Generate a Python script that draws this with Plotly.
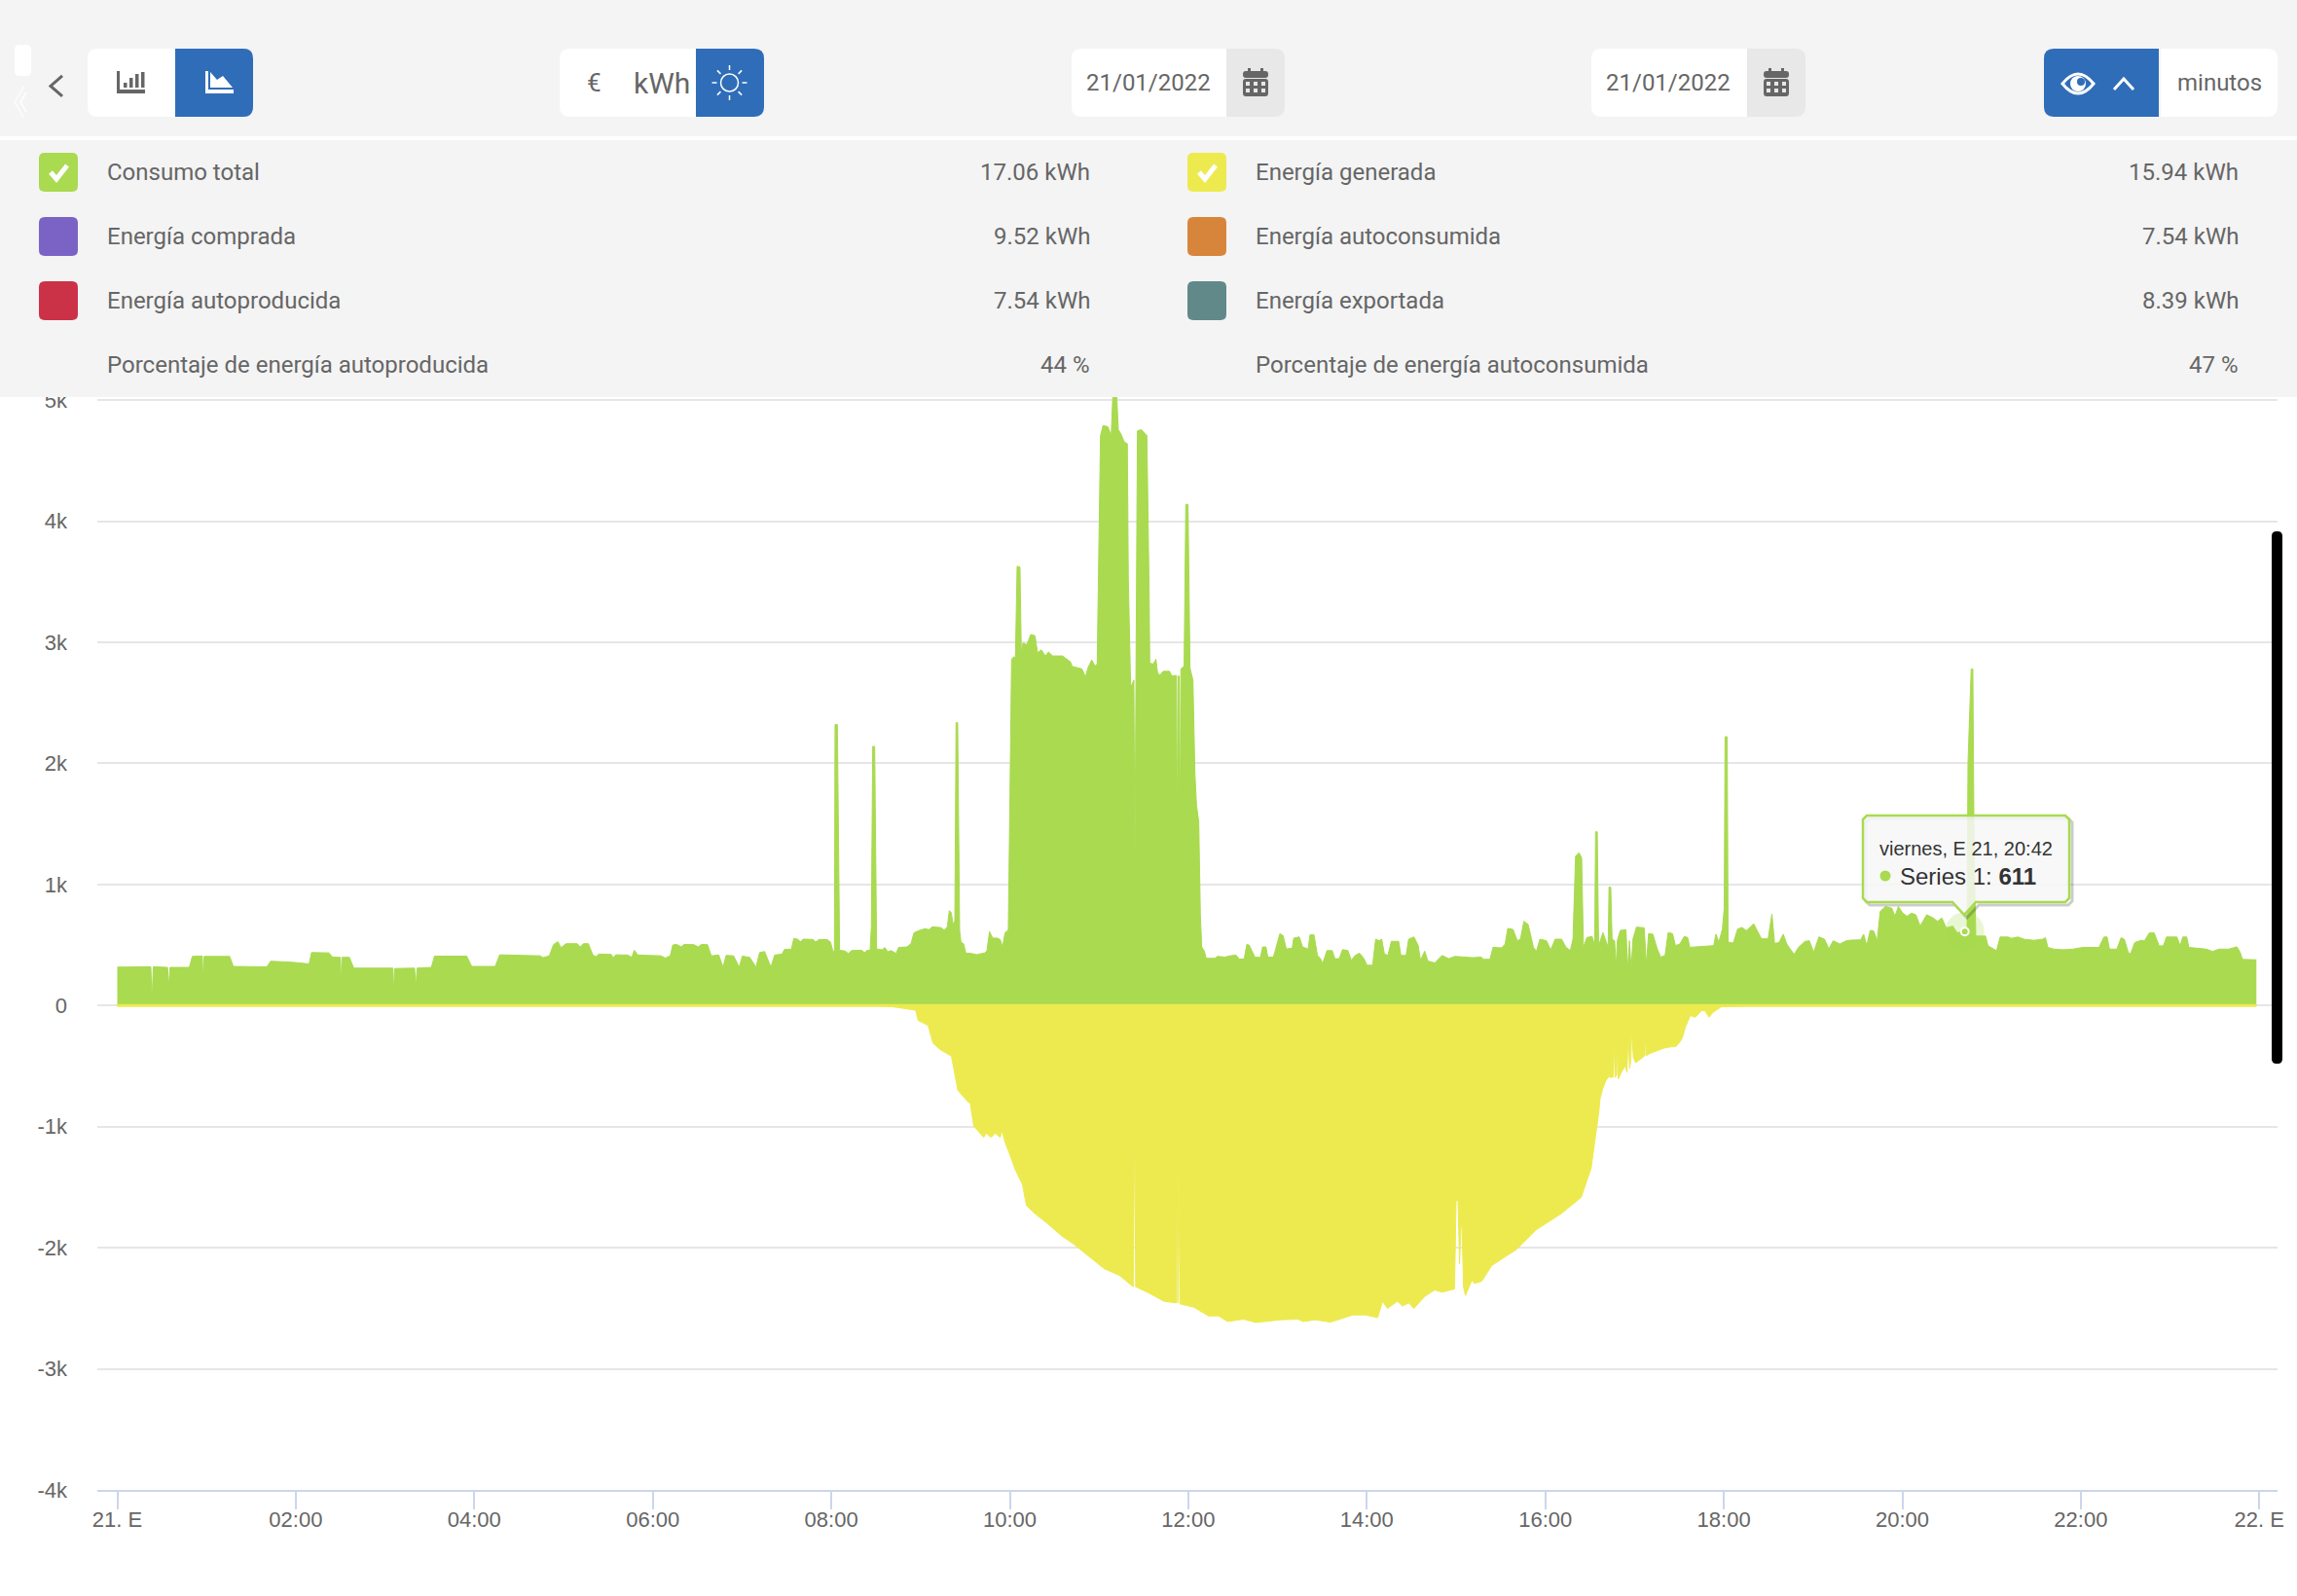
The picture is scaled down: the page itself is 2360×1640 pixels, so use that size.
import pandas as pd
import plotly.graph_objects as go

# hours since midnight, watts
consumo_h = [
    0.00, 0.376, 0.389, 0.403, 0.563, 0.577, 0.591, 0.807, 0.841, 0.953, 0.960, 0.974, 1.259, 1.300, 1.676, 1.718,
    1.954, 2.149, 2.177, 2.371, 2.413, 2.497, 2.503, 2.517, 2.601, 2.649, 3.088, 3.095, 3.108, 3.331, 3.345, 3.359,
    3.519, 3.554, 3.915, 3.971, 4.235, 4.284, 4.736, 4.771, 4.840, 4.889, 4.937, 4.972, 5.028, 5.153, 5.188, 5.222,
    5.278, 5.327, 5.361, 5.396, 5.535, 5.556, 5.584, 5.723, 5.765, 5.793, 5.834, 6.092, 6.140, 6.196, 6.224, 6.266,
    6.321, 6.349, 6.460, 6.509, 6.544, 6.613, 6.655, 6.697, 6.739, 6.787, 6.822, 6.905, 6.968, 7.003, 7.086, 7.156,
    7.197, 7.253, 7.323, 7.365, 7.448, 7.476, 7.552, 7.580, 7.621, 7.656, 7.684, 7.795, 7.823, 7.865, 7.955, 7.991,
    8.020, 8.035, 8.042, 8.068, 8.093, 8.155, 8.191, 8.228, 8.337, 8.373, 8.398, 8.435, 8.449, 8.464, 8.486, 8.508,
    8.573, 8.598, 8.635, 8.671, 8.726, 8.755, 8.846, 8.893, 8.926, 8.973, 9.046, 9.100, 9.129, 9.227, 9.264, 9.300,
    9.322, 9.344, 9.365, 9.384, 9.398, 9.416, 9.438, 9.453, 9.482, 9.507, 9.573, 9.627, 9.718, 9.743, 9.773, 9.809,
    9.863, 9.893, 9.918, 9.947, 9.983, 10.002, 10.020, 10.045, 10.063, 10.082, 10.114, 10.129, 10.147, 10.191, 10.234,
    10.282, 10.311, 10.354, 10.398, 10.434, 10.481, 10.590, 10.681, 10.699, 10.808, 10.848, 10.874, 10.918, 10.954,
    10.979, 10.994, 11.016, 11.045, 11.099, 11.136, 11.154, 11.198, 11.216, 11.245, 11.281, 11.317, 11.328, 11.354,
    11.390, 11.401, 11.412, 11.416, 11.430, 11.474, 11.536, 11.561, 11.568, 11.608, 11.637, 11.655, 11.681, 11.717,
    11.790, 11.815, 11.866, 11.874, 11.884, 11.899, 11.906, 11.917, 11.953, 11.972, 11.997, 12.019, 12.052, 12.074,
    12.092, 12.117, 12.135, 12.150, 12.179, 12.201, 12.299, 12.328, 12.408, 12.463, 12.535, 12.572, 12.626, 12.655,
    12.681, 12.746, 12.808, 12.833, 12.870, 12.891, 12.953, 12.979, 13.026, 13.062, 13.098, 13.164, 13.182, 13.244,
    13.280, 13.342, 13.364, 13.408, 13.447, 13.481, 13.505, 13.554, 13.612, 13.642, 13.690, 13.729, 13.788, 13.827,
    13.870, 13.919, 13.968, 14.002, 14.065, 14.099, 14.138, 14.167, 14.197, 14.236, 14.275, 14.357, 14.382, 14.440,
    14.469, 14.528, 14.576, 14.601, 14.649, 14.684, 14.761, 14.844, 14.917, 14.990, 15.088, 15.185, 15.282, 15.307,
    15.380, 15.414, 15.511, 15.550, 15.579, 15.638, 15.686, 15.721, 15.760, 15.808, 15.867, 15.901, 15.940, 16.013,
    16.061, 16.110, 16.183, 16.232, 16.280, 16.310, 16.339, 16.378, 16.407, 16.427, 16.466, 16.524, 16.553, 16.563,
    16.582, 16.597, 16.646, 16.680, 16.704, 16.714, 16.733, 16.748, 16.777, 16.792, 16.806, 16.841, 16.904, 16.923,
    16.943, 16.962, 16.982, 17.021, 17.108, 17.132, 17.157, 17.205, 17.254, 17.293, 17.342, 17.376, 17.425, 17.459,
    17.507, 17.556, 17.595, 17.619, 17.741, 17.887, 17.911, 17.945, 17.984, 18.004, 18.014, 18.038, 18.048, 18.106,
    18.155, 18.204, 18.252, 18.291, 18.335, 18.374, 18.423, 18.496, 18.539, 18.569, 18.618, 18.666, 18.705, 18.788,
    18.837, 18.910, 18.958, 19.007, 19.066, 19.128, 19.177, 19.226, 19.299, 19.372, 19.421, 19.533, 19.567, 19.601,
    19.640, 19.679, 19.718, 19.752, 19.810, 19.883, 19.917, 19.956, 20.005, 20.053, 20.102, 20.151, 20.200, 20.273,
    20.346, 20.395, 20.443, 20.492, 20.565, 20.614, 20.700, 20.725, 20.736, 20.772, 20.790, 20.805, 20.823, 20.932,
    20.961, 21.005, 21.056, 21.096, 21.186, 21.223, 21.295, 21.368, 21.477, 21.568, 21.604, 21.630, 21.695, 21.804,
    21.913, 22.022, 22.204, 22.259, 22.295, 22.321, 22.404, 22.451, 22.488, 22.531, 22.557, 22.604, 22.677, 22.713,
    22.768, 22.822, 22.877, 22.924, 22.960, 23.077, 23.113, 23.142, 23.186, 23.211, 23.331, 23.404, 23.477, 23.549,
    23.658, 23.749, 23.785, 23.811, 23.967,
]
consumo_w = [
    317, 320, 22, 320, 315, 156, 315, 315, 406, 409, 210, 406, 406, 323, 320, 366,
    358, 344, 438, 435, 400, 398, 156, 398, 398, 309, 309, 102, 306, 309, 142, 309,
    315, 408, 408, 323, 323, 419, 411, 395, 411, 505, 527, 478, 511, 511, 484, 511,
    511, 419, 403, 425, 422, 392, 419, 417, 398, 457, 417, 411, 392, 411, 500, 505,
    484, 505, 503, 484, 505, 503, 411, 414, 417, 317, 414, 411, 317, 408, 398, 317,
    438, 446, 317, 417, 425, 465, 465, 554, 548, 527, 548, 546, 524, 546, 544, 524,
    444, 450, 2320, 2320, 457, 450, 430, 454, 457, 437, 454, 457, 650, 2140, 2140, 467,
    460, 480, 444, 454, 430, 480, 484, 510, 600, 617, 634, 627, 650, 644, 624, 650,
    784, 767, 667, 700, 2336, 2336, 617, 524, 510, 434, 430, 420, 434, 450, 610, 557,
    557, 544, 484, 600, 624, 1750, 2860, 2880, 2870, 3628, 3621, 2904, 2994, 2980, 3064,
    3054, 2914, 2937, 2887, 2920, 2887, 2887, 2837, 2800, 2780, 2713, 2787, 2854, 2804,
    2820, 3800, 4706, 4790, 4780, 4706, 5030, 5030, 4756, 4720, 4656, 4640, 3520, 2627,
    2687, 1150, 2687, 3420, 4746, 4756, 4706, 3420, 2827, 2820, 2860, 2750, 2727, 2760,
    2760, 2720, 2727, 1250, 2720, 2720, 1250, 2780, 2804, 4139, 4139, 2787, 2687, 1919,
    1652, 1519, 751, 484, 450, 390, 390, 407, 400, 410, 417, 384, 384, 504,
    500, 400, 397, 484, 484, 400, 400, 467, 594, 577, 467, 474, 557, 567,
    484, 467, 584, 584, 414, 387, 347, 454, 454, 387, 387, 462, 454, 374,
    414, 433, 387, 333, 333, 548, 535, 548, 427, 414, 530, 530, 414, 414,
    548, 567, 495, 374, 449, 368, 352, 414, 387, 406, 400, 395, 400, 382,
    382, 481, 476, 508, 637, 629, 535, 548, 696, 669, 481, 449, 548, 535,
    460, 548, 548, 481, 454, 548, 1234, 1261, 1220, 481, 562, 570, 500, 1435,
    1435, 495, 602, 535, 481, 978, 978, 548, 535, 300, 535, 621, 626, 293,
    535, 293, 548, 648, 642, 333, 594, 589, 468, 400, 414, 602, 594, 495,
    508, 570, 562, 481, 489, 495, 589, 524, 632, 800, 2220, 2220, 524, 516,
    632, 645, 618, 645, 675, 618, 551, 551, 755, 513, 521, 589, 508, 422,
    481, 530, 535, 441, 567, 548, 468, 535, 508, 535, 540, 543, 589, 495,
    621, 616, 535, 777, 817, 804, 737, 817, 763, 737, 763, 750, 656, 750,
    723, 696, 723, 642, 656, 602, 611, 587, 2008, 2780, 2780, 1204, 574, 574,
    493, 475, 453, 566, 566, 555, 566, 547, 539, 547, 560, 480, 466, 461,
    466, 480, 480, 566, 566, 466, 466, 560, 547, 440, 426, 520, 539, 534,
    600, 600, 493, 493, 566, 566, 493, 566, 566, 480, 472, 466, 447, 466,
    466, 485, 440, 381, 378,
]
generada_h = [
    0.00, 8.500, 8.667, 8.945, 8.973, 9.084, 9.140, 9.223, 9.346, 9.418, 9.529, 9.557, 9.596, 9.708, 9.735, 9.791,
    9.836, 9.891, 9.913, 9.947, 10.003, 10.058, 10.114, 10.142, 10.186, 10.281, 10.420, 10.531, 10.587, 10.698,
    10.809, 10.949, 11.060, 11.227, 11.383, 11.399, 11.410, 11.561, 11.728, 11.867, 11.872, 11.883, 11.889, 11.906,
    12.061, 12.228, 12.340, 12.440, 12.618, 12.757, 12.896, 13.035, 13.230, 13.286, 13.425, 13.592, 13.731, 13.842,
    13.981, 14.121, 14.176, 14.232, 14.343, 14.399, 14.471, 14.527, 14.649, 14.760, 14.844, 14.983, 15.000, 15.022,
    15.039, 15.055, 15.067, 15.083, 15.105, 15.178, 15.206, 15.289, 15.400, 15.679, 15.901, 16.179, 16.402, 16.469,
    16.513, 16.596, 16.614, 16.643, 16.679, 16.705, 16.708, 16.715, 16.759, 16.770, 16.781, 16.799, 16.806, 16.817,
    16.861, 16.897, 16.915, 16.926, 16.934, 16.945, 16.959, 16.966, 16.988, 17.014, 17.079, 17.115, 17.123, 17.130,
    17.188, 17.333, 17.388, 17.461, 17.497, 17.533, 17.570, 17.624, 17.679, 17.751, 17.788, 17.835, 17.879, 17.970,
    18.315, 23.967,
]
generada_w = [
    0, 0, -8, -38, -123, -164, -311, -365, -418, -700, -794, -807, -995, -1088, -1054, -1088,
    -1054, -1088, -1035, -1129, -1236, -1349, -1437, -1477, -1651, -1718, -1799, -1866, -1906, -1960,
    -2027, -2107, -2174, -2228, -2322, -910, -2322, -2375, -2442, -2456, -1182, -2456, -1182, -2464,
    -2491, -2563, -2563, -2609, -2590, -2617, -2604, -2595, -2590, -2609, -2595, -2614, -2582, -2555,
    -2555, -2577, -2442, -2501, -2442, -2482, -2456, -2501, -2402, -2349, -2367, -2340, -1611, -1611,
    -2134, -1825, -1825, -2322, -2394, -2268, -2295, -2276, -2147, -2013, -1850, -1718, -1584, -1437,
    -1343, -900, -767, -686, -619, -592, -365, -592, -592, -284, -592, -579, -284, -606,
    -539, -499, -552, -284, -338, -520, -445, -204, -432, -472, -432, -413, -190, -413,
    -391, -351, -343, -338, -311, -271, -177, -83, -96, -43, -43, -96, -56, -11,
    0, 0,
]
hover_h = [20.70]
hover_w = [611]

tick_h = [0, 2, 4, 6, 8, 10, 12, 14, 16, 18, 20, 22, 24]
tick_x_text = ['21. E', '02:00', '04:00', '06:00', '08:00', '10:00', '12:00', '14:00', '16:00', '18:00', '20:00', '22:00', '22. E']
tick_y = [5000, 4000, 3000, 2000, 1000, 0, -1000, -2000, -3000, -4000]
tick_y_text = ['5k', '4k', '3k', '2k', '1k', '0', '-1k', '-2k', '-3k', '-4k']

filas_izq = ['Consumo total', 'Energía comprada', 'Energía autoproducida', 'Porcentaje de energía autoproducida']
valores_izq = ['17.06 kWh', '9.52 kWh', '7.54 kWh', '44 %']
filas_der = ['Energía generada', 'Energía autoconsumida', 'Energía exportada', 'Porcentaje de energía autoconsumida']
valores_der = ['15.94 kWh', '7.54 kWh', '8.39 kWh', '47 %']
fecha_desde = '21/01/2022'
fecha_hasta = '21/01/2022'

VERDE = '#a9da50'
AMARILLO = '#edea50'
AZUL = '#2f6db8'
GRIS_TXT = '#666666'
swatch_izq = [VERDE, '#7b63c6', '#cc3247']
swatch_der = [AMARILLO, '#d8853c', '#62898a']

W, H = 2360, 1640
M_L, M_R, M_T, M_B = 100, 20, 408, 109
HOUR_PX = 91.7
T0_PX = 120.5


def fecha(horas):
    return [pd.Timestamp('2022-01-21') + pd.Timedelta(hours=h) for h in horas]


# pixel -> paper, only used for the app chrome around the chart
def X(px):
    return (px - M_L) / (W - M_L - M_R)


def Y(py):
    return (H - M_B - py) / (H - M_T - M_B)


shapes = []
annots = []


def path(puntos, cerrar=True):
    d = ''
    for i, (a, b) in enumerate(puntos):
        d += ('M' if i == 0 else 'L') + f'{X(a):.5f},{Y(b):.5f} '
    return d + ('Z' if cerrar else '')


def add_path(d, fill=None, line=None, ancho=0):
    shapes.append(dict(type='path', xref='paper', yref='paper', path=d,
                       fillcolor=fill if fill else 'rgba(0,0,0,0)',
                       line=dict(color=line if line else 'rgba(0,0,0,0)', width=ancho)))


def rrect(x0, y0, x1, y1, rl=0, rr=0):
    p = lambda a, b: f'{X(a):.5f},{Y(b):.5f}'
    return (f'M{p(x0 + rl, y0)} L{p(x1 - rr, y0)} Q{p(x1, y0)} {p(x1, y0 + rr)} L{p(x1, y1 - rr)} '
            f'Q{p(x1, y1)} {p(x1 - rr, y1)} L{p(x0 + rl, y1)} Q{p(x0, y1)} {p(x0, y1 - rl)} '
            f'L{p(x0, y0 + rl)} Q{p(x0, y0)} {p(x0 + rl, y0)} Z')


def caja(x0, y0, x1, y1, color, rl=0, rr=0):
    add_path(rrect(x0, y0, x1, y1, rl, rr), fill=color)


def circulo(cx, cy, r, fill=None, line=None, ancho=0):
    shapes.append(dict(type='circle', xref='paper', yref='paper',
                       x0=X(cx - r), x1=X(cx + r), y0=Y(cy + r), y1=Y(cy - r),
                       fillcolor=fill if fill else 'rgba(0,0,0,0)',
                       line=dict(color=line if line else 'rgba(0,0,0,0)', width=ancho)))


def texto(s, x, y, anchor='left', size=24, color=GRIS_TXT, family='Roboto'):
    annots.append(dict(text=s, xref='paper', yref='paper', x=X(x), y=Y(y), xanchor=anchor, yanchor='middle',
                       showarrow=False, borderpad=0, font=dict(family=family, size=size, color=color)))


def check(x0, y0):
    add_path(path([(x0 + 12, y0 + 20), (x0 + 18, y0 + 27), (x0 + 29, y0 + 13)], cerrar=False), line='white', ancho=5)


def calendario(x0):
    caja(x0, 73, x0 + 26, 80, GRIS_TXT, 3, 3)
    caja(x0 + 5, 70, x0 + 8, 75, GRIS_TXT)
    caja(x0 + 18, 70, x0 + 21, 75, GRIS_TXT)
    caja(x0, 81, x0 + 26, 99, GRIS_TXT, 3, 3)
    for fy in (84, 91):
        for cx in (3, 11, 19):
            caja(x0 + cx, fy, x0 + cx + 4, fy + 4, '#e8e8e8')


# header and summary panel
caja(0, 0, W, 140, '#f4f4f4')
caja(0, 144, W, 408, '#f4f4f4')
caja(15, 46, 32, 78, 'white', 5, 5)
for r, op in ((10, 0.8), (16, 0.6)):
    add_path(path([(31 - r * 0.4, 105 - r), (31 - r, 105), (31 - r * 0.4, 105 + r)], cerrar=False),
             line=f'rgba(255,255,255,{op})', ancho=2)

add_path(path([(64, 78), (52, 88.5), (64, 99)], cerrar=False), line=GRIS_TXT, ancho=3)

caja(90, 50, 180, 120, 'white', 10, 0)
caja(180, 50, 260, 120, AZUL, 0, 10)
caja(120, 73, 123, 96, GRIS_TXT)
caja(120, 92, 149, 96, GRIS_TXT)
for bx, by in ((127, 85), (133, 80), (139, 76), (145, 74)):
    caja(bx, by, bx + 3.5, 90, GRIS_TXT)
caja(211, 73, 214, 96, 'white')
caja(211, 92, 240, 96, 'white')
add_path(path([(216, 90), (216, 74), (223, 82), (229, 78), (239, 90)]), fill='white')

caja(575, 50, 715, 120, 'white', 10, 0)
caja(715, 50, 785, 120, AZUL, 0, 10)
texto('€', 610, 85, 'center', 26)
texto('kWh', 679.5, 85, 'center', 30)
circulo(749.5, 85, 9, line='white', ancho=1.5)
for dx, dy in ((0, -1), (0.7, -0.7), (1, 0), (0.7, 0.7), (0, 1), (-0.7, 0.7), (-1, 0), (-0.7, -0.7)):
    add_path(path([(749.5 + dx * 13, 85 + dy * 13), (749.5 + dx * 18, 85 + dy * 18)], cerrar=False), line='white', ancho=1.5)

caja(1101, 50, 1260, 120, 'white', 10, 0)
caja(1260, 50, 1320, 120, '#e8e8e8', 0, 10)
texto(fecha_desde, 1180, 85, 'center', 24)
calendario(1277)
caja(1635, 50, 1795, 120, 'white', 10, 0)
caja(1795, 50, 1855, 120, '#e8e8e8', 0, 10)
texto(fecha_hasta, 1714, 85, 'center', 24)
calendario(1812)

caja(2100, 50, 2218, 120, AZUL, 10, 0)
caja(2220, 50, 2340, 120, 'white', 0, 10)
shapes.append(dict(type='path', xref='paper', yref='paper',
                   path=(f'M{X(2119):.5f},{Y(86):.5f} Q{X(2135):.5f},{Y(66):.5f} {X(2151):.5f},{Y(86):.5f} '
                         f'Q{X(2135):.5f},{Y(106):.5f} {X(2119):.5f},{Y(86):.5f} Z'),
                   fillcolor='rgba(0,0,0,0)', line=dict(color='white', width=3)))
circulo(2135, 86, 8, fill='white')
circulo(2138, 84, 4, fill=AZUL)
add_path(path([(2172, 92), (2182, 81), (2192, 92)], cerrar=False), line='white', ancho=3)
texto('minutos', 2280, 85, 'center', 24)

# summary rows
filas_y = [177, 243, 309, 375]
for col_x, col_fin, filas, valores, colores in ((40, 1120.5, filas_izq, valores_izq, swatch_izq),
                                                (1220, 2300.5, filas_der, valores_der, swatch_der)):
    for i, y in enumerate(filas_y):
        if i < 3:
            caja(col_x, y - 20, col_x + 40, y + 20, colores[i], 6, 6)
        if i == 0:
            check(col_x, y - 20)
        texto(filas[i], col_x + 69, y, 'left', 24)
        texto(valores[i], col_fin, y, 'right', 24)

# tooltip
tip = [(1918, 838), (2122, 838), (2126, 842), (2126, 923), (2122, 927), (2030, 927), (2018, 940), (2006, 927),
       (1918, 927), (1914, 923), (1914, 842)]
add_path(path([(a + 3, b + 3) for a, b in tip]), line='rgba(0,0,0,0.2)', ancho=3)
add_path(path(tip), fill='rgba(247,247,247,0.85)', line=VERDE, ancho=2.5)
circulo(1937, 900, 5.5, fill=VERDE)
texto('viernes, E 21, 20:42', 1930, 872, 'left', 20, '#333333', 'Liberation Sans')
texto('Series 1: <b>611</b>', 1951, 900, 'left', 24, '#333333', 'Liberation Sans')

# scrollbar
caja(2334, 546, 2345, 1093, 'black', 5, 5)

fig = go.Figure()
fig.add_trace(go.Scatter(x=fecha(consumo_h), y=consumo_w, mode='lines', fill='tozeroy', name='Consumo total',
                         line=dict(color=VERDE, width=1), fillcolor=VERDE, hoverinfo='skip'))
fig.add_trace(go.Scatter(x=fecha(generada_h), y=generada_w, mode='lines', fill='tozeroy', name='Energía generada',
                         line=dict(color=AMARILLO, width=1), fillcolor=AMARILLO, hoverinfo='skip'))
# thin line the night-time zeros of the generation series leave on the axis
fig.add_trace(go.Scatter(x=fecha([generada_h[0], generada_h[-1]]), y=[generada_w[0], generada_w[-1]], mode='lines',
                         line=dict(color=AMARILLO, width=3), hoverinfo='skip'))
fig.add_trace(go.Scatter(x=fecha(hover_h), y=hover_w, mode='markers', hoverinfo='skip',
                         marker=dict(size=40, color='rgba(169,218,80,0.25)')))
fig.add_trace(go.Scatter(x=fecha(hover_h), y=hover_w, mode='markers', hoverinfo='skip',
                         marker=dict(size=8, color=VERDE, line=dict(color='white', width=2))))

x_ini = (M_L - T0_PX) / HOUR_PX
x_fin = (W - M_R - T0_PX) / HOUR_PX

fig.update_layout(
    width=W, height=H,
    margin=dict(l=M_L, r=M_R, t=M_T, b=M_B, pad=0),
    paper_bgcolor='white', plot_bgcolor='white',
    showlegend=False,
    xaxis=dict(type='date', range=fecha([x_ini, x_fin]), tickvals=fecha(tick_h), ticktext=tick_x_text,
               tickmode='array', showgrid=False, zeroline=False, showline=True, linecolor='#ccd6eb', linewidth=2,
               ticks='outside', ticklen=18, tickwidth=1.5, tickcolor='#ccd6eb', ticklabelstandoff=-8,
               tickfont=dict(family='Liberation Sans', size=22, color=GRIS_TXT)),
    yaxis=dict(range=[-4000, 5025], tickmode='array', tickvals=tick_y, ticktext=tick_y_text,
               showgrid=True, gridcolor='#e6e6e6', gridwidth=2, zeroline=False, showline=False,
               ticks='', ticklabelstandoff=30,
               tickfont=dict(family='Liberation Sans', size=22, color=GRIS_TXT)),
    shapes=shapes, annotations=annots,
)

# the page's default body margin would push everything 8px off the chart
fig.write_html('out.html', config=dict(displayModeBar=False),
               post_script="document.body.style.margin='0';document.documentElement.style.overflow='hidden';")
